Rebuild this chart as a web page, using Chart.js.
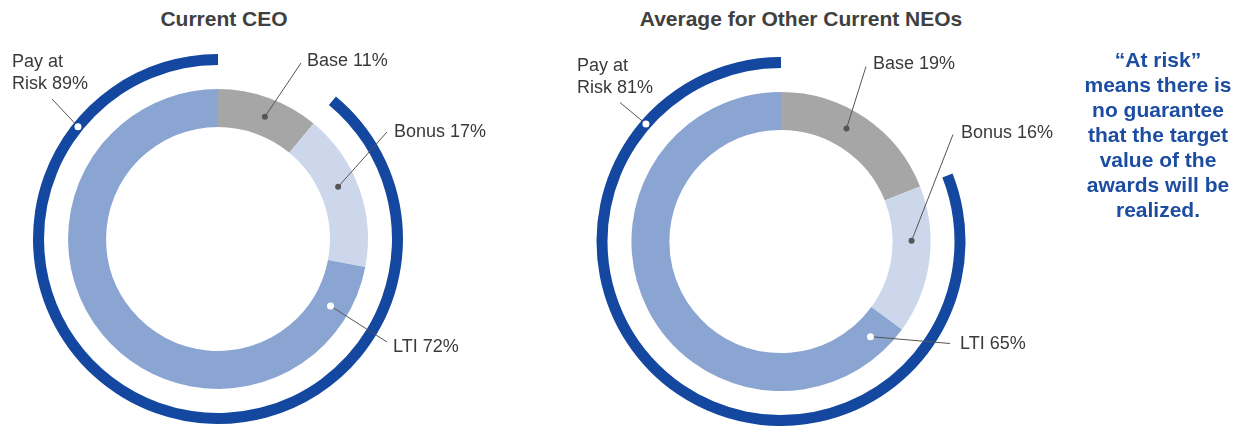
<!DOCTYPE html>
<html>
<head>
<meta charset="utf-8">
<script src="https://cdn.jsdelivr.net/npm/chart.js@4.4.1/dist/chart.umd.min.js"></script>
<style>
    body { margin: 0; width: 1233px; height: 426px; overflow: hidden; background: #fff; position: relative;
           font-family: Arial, "Liberation Sans", sans-serif; }
    .title { position: absolute; top: 8px; font-weight: bold; font-size: 21px; line-height: 21px;
             color: #404040; text-align: center; white-space: nowrap; }
    .box { position: absolute; top: 0; height: 426px; }
    #note { position: absolute; left: 1078px; width: 160px; top: 47px; text-align: center;
            font-weight: bold; font-size: 21px; line-height: 25px; color: #1c4da0; }
</style>
</head>
<body>
<div class="title" id="t0" style="left:104px;width:240px"></div>
<div class="title" id="t1" style="left:601px;width:400px"></div>
<div class="box" style="left:0;width:500px"><canvas id="c0"></canvas></div>
<div class="box" style="left:560px;width:520px"><canvas id="c1"></canvas></div>
<div id="note">“At risk”<br>means there is<br>no guarantee<br>that the target<br>value of the<br>awards will be<br>realized.</div>

<script>
// data
var titles = ["Current CEO", "Average for Other Current NEOs"];
var segments = ["Base", "Bonus", "LTI"];
var ceoValues = [11, 17, 72];
var neoValues = [19, 16, 65];
var atRisk = [89, 81];

var colors = ["#a6a6a6", "#cdd7eb", "#8ba5d3"];
var ringBlue = "#1447a0";

// where the callouts sit, relative to the doughnut centre
var layouts = [
    { padding: { left: 33, top: 54, right: 97, bottom: 2 },
      pay: { along: 0.84, line: [-166, -140], text: [-206, -172] },
      seg: [
          { along: 0.53, line: [83, -176], text: [89, -173], dot: "#555" },
          { along: 0.44, line: [169, -107], text: [176, -102], dot: "#555" },
          { along: 0.077, line: [169, 103], text: [175, 113], dot: "#fff" }
      ] },
    { padding: { left: 36, top: 57, right: 114, bottom: 0 },
      pay: { along: 0.832, line: [-161, -139], text: [-204, -171] },
      seg: [
          { along: 0.44, line: [85, -175], text: [92, -173], dot: "#555" },
          { along: 0.37, line: [172, -107], text: [180, -104], dot: "#555" },
          { along: 0.046, line: [169, 102], text: [179, 107], dot: "#fff" }
      ] }
];

var leaderLabels = {
    id: "leaderLabels",
    afterDraw: function (chart, args, opts) {
        var ctx = chart.ctx;
        opts.items.forEach(function (item) {
            var arc = chart.getDatasetMeta(item.dataset).data[item.index];
            var p = arc.getProps(["x", "y", "startAngle", "endAngle", "innerRadius", "outerRadius"], true);
            var a = p.startAngle + (p.endAngle - p.startAngle) * item.along;
            var r = (p.innerRadius + p.outerRadius) / 2;
            var dx = p.x + Math.cos(a) * r;
            var dy = p.y + Math.sin(a) * r;
            ctx.save();
            ctx.strokeStyle = "#555";
            ctx.lineWidth = 1;
            ctx.beginPath();
            ctx.moveTo(dx, dy);
            ctx.lineTo(p.x + item.line[0], p.y + item.line[1]);
            ctx.stroke();
            ctx.fillStyle = item.dot;
            ctx.beginPath();
            ctx.arc(dx, dy, item.dot == "#fff" ? 3.5 : 3, 0, Math.PI * 2);
            ctx.fill();
            ctx.font = "18px Arial, 'Liberation Sans', sans-serif";
            ctx.fillStyle = "#3a3a3a";
            ctx.textAlign = "left";
            ctx.textBaseline = "alphabetic";
            item.text.forEach(function (t, k) {
                ctx.fillText(t, p.x + item.textAt[0], p.y + item.textAt[1] + k * 22);
            });
            ctx.restore();
        });
    }
};

function drawPanel(i, values) {
    document.getElementById("t" + i).textContent = titles[i];
    var lay = layouts[i];
    var items = [{
        dataset: 0, index: 1, along: lay.pay.along, line: lay.pay.line, textAt: lay.pay.text,
        dot: "#fff", text: ["Pay at", "Risk " + atRisk[i] + "%"]
    }];
    segments.forEach(function (name, k) {
        var s = lay.seg[k];
        items.push({ dataset: 2, index: k, along: s.along, line: s.line, textAt: s.text,
                     dot: s.dot, text: [name + " " + values[k] + "%"] });
    });

    new Chart(document.getElementById("c" + i), {
        type: "doughnut",
        data: {
            labels: segments,
            datasets: [
                { data: [values[0], atRisk[i]], backgroundColor: ["rgba(0,0,0,0)", ringBlue],
                  borderWidth: 0, weight: 11 },
                { data: [1], backgroundColor: ["rgba(0,0,0,0)"], borderWidth: 0, weight: 24 },
                { data: values, backgroundColor: colors, borderWidth: 0, weight: 38 }
            ]
        },
        options: {
            responsive: true,
            maintainAspectRatio: false,
            animation: false,
            events: [],
            cutout: "60.5%",
            layout: { padding: lay.padding },
            plugins: {
                legend: { display: false },
                tooltip: { enabled: false },
                leaderLabels: { items: items }
            }
        },
        plugins: [leaderLabels]
    });
}

drawPanel(0, ceoValues);
drawPanel(1, neoValues);
</script>
</body>
</html>
